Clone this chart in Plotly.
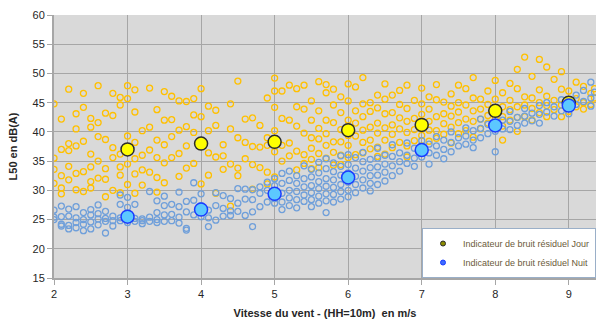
import plotly.graph_objects as go

# Background noise L50 (dB(A)) versus wind speed at 10 m, day samples
day_wind = [
    2.0, 2.0, 2.0, 2.0,
    2.1, 2.1, 2.1, 2.1, 2.1,
    2.2, 2.2, 2.2, 2.2, 2.2,
    2.3, 2.3, 2.3, 2.3, 2.3,
    2.4, 2.4, 2.4, 2.4, 2.4,
    2.5, 2.5, 2.5, 2.5, 2.5, 2.5,
    2.6, 2.6, 2.6, 2.6, 2.6,
    2.7, 2.7, 2.7, 2.7, 2.7,
    2.8, 2.8, 2.8, 2.8, 2.8,
    2.9, 2.9, 2.9, 2.9, 2.9, 2.9,
    3.0, 3.0, 3.0, 3.0, 3.0,
    3.1, 3.1, 3.1, 3.1, 3.1, 3.1,
    3.2, 3.2, 3.2, 3.2,
    3.3, 3.3, 3.3, 3.3,
    3.4, 3.4, 3.4, 3.4, 3.4,
    3.5, 3.5, 3.5, 3.5, 3.5,
    3.6, 3.6, 3.6, 3.6,
    3.7, 3.7, 3.7, 3.7,
    3.8, 3.8, 3.8, 3.8,
    3.9, 3.9, 3.9, 3.9,
    4.0, 4.0, 4.0, 4.0,
    4.1, 4.1, 4.1, 4.1,
    4.2, 4.2, 4.2, 4.2,
    4.3, 4.3, 4.3,
    4.4, 4.4, 4.4, 4.4,
    4.5, 4.5, 4.5, 4.5,
    4.6, 4.6, 4.6,
    4.7, 4.7, 4.7, 4.7,
    4.8, 4.8, 4.8,
    4.9, 4.9, 4.9, 4.9, 4.9,
    5.0, 5.0, 5.0, 5.0, 5.0, 5.0,
    5.1, 5.1, 5.1, 5.1,
    5.2, 5.2, 5.2, 5.2,
    5.3, 5.3, 5.3, 5.3, 5.3,
    5.4, 5.4, 5.4, 5.4, 5.4,
    5.5, 5.5, 5.5, 5.5, 5.5, 5.5,
    5.6, 5.6, 5.6, 5.6, 5.6, 5.6,
    5.7, 5.7, 5.7, 5.7, 5.7, 5.7,
    5.8, 5.8, 5.8, 5.8, 5.8, 5.8,
    5.9, 5.9, 5.9, 5.9, 5.9, 5.9,
    6.0, 6.0, 6.0, 6.0, 6.0, 6.0,
    6.1, 6.1, 6.1, 6.1, 6.1,
    6.2, 6.2, 6.2, 6.2, 6.2, 6.2,
    6.3, 6.3, 6.3, 6.3, 6.3,
    6.4, 6.4, 6.4, 6.4, 6.4, 6.4,
    6.5, 6.5, 6.5, 6.5, 6.5, 6.5,
    6.6, 6.6, 6.6, 6.6, 6.6,
    6.7, 6.7, 6.7, 6.7, 6.7,
    6.8, 6.8, 6.8, 6.8, 6.8, 6.8,
    6.9, 6.9, 6.9, 6.9,
    7.0, 7.0, 7.0, 7.0, 7.0, 7.0,
    7.1, 7.1, 7.1, 7.1, 7.1,
    7.2, 7.2, 7.2, 7.2, 7.2,
    7.3, 7.3, 7.3, 7.3,
    7.4, 7.4, 7.4, 7.4, 7.4,
    7.5, 7.5, 7.5, 7.5, 7.5,
    7.6, 7.6, 7.6, 7.6,
    7.7, 7.7, 7.7, 7.7, 7.7,
    7.8, 7.8, 7.8, 7.8,
    7.9, 7.9, 7.9, 7.9,
    8.0, 8.0, 8.0, 8.0, 8.0,
    8.1, 8.1, 8.1, 8.1, 8.1,
    8.2, 8.2, 8.2, 8.2,
    8.3, 8.3, 8.3, 8.3, 8.3,
    8.4, 8.4, 8.4, 8.4,
    8.5, 8.5, 8.5, 8.5,
    8.6, 8.6, 8.6, 8.6,
    8.7, 8.7, 8.7, 8.7,
    8.8, 8.8, 8.8,
    8.9, 8.9, 8.9, 8.9,
    9.0, 9.0, 9.0,
    9.1, 9.1, 9.1,
    9.2, 9.2, 9.2,
    9.3, 9.3,
    9.35, 9.35,
]
day_l50 = [
    44.8, 33.6, 31.2, 35.5,
    42.2, 37.0, 32.5, 30.4, 29.4,
    47.3, 36.8, 34.1, 38.0, 31.8,
    43.1, 37.6, 32.9, 40.5, 30.1,
    46.6, 44.2, 38.4, 33.2, 29.8,
    42.3, 40.8, 36.2, 34.0, 31.5, 30.4,
    47.9, 41.6, 39.2, 35.0, 32.1,
    43.2, 38.7, 33.7, 28.9, 31.9,
    46.6, 42.8, 37.3, 35.6, 30.0,
    45.9, 44.6, 36.2, 34.0, 32.6, 29.6,
    47.9, 45.7, 39.3, 34.5, 31.0,
    47.2, 43.4, 38.2, 35.4, 32.8, 29.5,
    40.2, 36.0, 33.5, 30.9,
    47.5, 40.8, 36.9, 33.1,
    43.8, 38.6, 35.6, 32.2, 29.7,
    46.9, 42.0, 37.8, 34.7, 31.3,
    46.1, 42.1, 39.2, 35.6,
    45.3, 40.3, 36.3, 32.4,
    45.2, 40.9, 37.6, 33.8,
    45.7, 42.9, 39.9, 34.6,
    47.4, 42.6, 37.5, 31.1,
    44.4, 40.2, 36.4, 32.6,
    43.7, 41.1, 35.7, 29.5,
    37.8, 35.9, 33.6,
    44.8, 40.5, 34.5, 27.3,
    48.7, 39.0, 33.8, 32.5,
    42.2, 38.2, 35.4,
    42.4, 37.5, 34.4, 30.2,
    41.1, 37.4, 33.9,
    45.8, 39.0, 37.7, 33.1, 31.1,
    49.2, 47.0, 44.2, 40.2, 36.6, 32.3,
    47.0, 42.3, 37.7, 35.0,
    48.0, 42.0, 38.1, 35.9,
    47.4, 44.3, 41.0, 36.7, 33.5,
    48.0, 43.9, 39.8, 36.1, 34.6,
    45.3, 42.0, 39.0, 37.2, 35.3, 33.7,
    48.6, 43.6, 40.6, 38.8, 36.3, 33.9,
    48.1, 46.7, 42.0, 39.7, 37.7, 35.5,
    47.3, 44.6, 41.6, 38.3, 36.5, 34.3,
    46.0, 43.3, 40.4, 38.3, 36.0, 34.4,
    48.2, 45.3, 42.0, 39.4, 37.7, 35.6,
    47.7, 43.6, 41.5, 39.3, 36.1,
    49.3, 44.8, 42.6, 40.3, 38.2, 36.4,
    45.0, 43.5, 40.8, 38.6, 37.1,
    46.3, 44.1, 41.5, 39.8, 37.4, 35.8,
    48.2, 45.6, 43.1, 40.7, 38.6, 36.2,
    46.3, 43.3, 41.2, 39.6, 37.3,
    47.1, 44.7, 42.4, 40.5, 38.2,
    48.0, 44.0, 41.8, 39.9, 37.6, 35.7,
    45.4, 42.3, 40.4, 38.5,
    47.5, 44.8, 43.0, 41.0, 39.4, 37.6,
    46.0, 43.9, 41.8, 40.3, 38.4,
    48.1, 45.5, 42.6, 40.2, 38.9,
    45.1, 43.1, 41.4, 39.6,
    46.5, 44.4, 42.7, 40.8, 38.1,
    48.0, 45.0, 43.4, 41.6, 39.7,
    47.4, 44.6, 42.2, 40.2,
    49.3, 45.8, 43.6, 41.8, 39.1,
    45.6, 43.9, 42.2, 40.5,
    47.0, 44.7, 42.8, 41.5,
    48.8, 45.6, 43.9, 42.4, 40.8,
    46.7, 44.3, 42.6, 41.0, 38.6,
    48.3, 45.4, 43.8, 42.0,
    50.7, 47.4, 44.3, 42.5, 40.1,
    52.8, 46.0, 44.6, 42.6,
    49.5, 45.8, 44.0, 42.0,
    52.4, 47.2, 45.0, 43.3,
    51.1, 46.1, 44.5, 42.6,
    49.0, 45.4, 43.8,
    50.3, 47.3, 44.6, 42.6,
    47.0, 45.3, 43.5,
    48.5, 45.7, 44.3,
    47.8, 45.0, 43.9,
    46.6, 44.7,
    47.4, 45.8,
]

# Night samples
night_wind = [
    2.0, 2.0, 2.0,
    2.1, 2.1, 2.1, 2.1,
    2.2, 2.2, 2.2, 2.2,
    2.3, 2.3, 2.3, 2.3,
    2.4, 2.4, 2.4, 2.4,
    2.5, 2.5, 2.5, 2.5,
    2.6, 2.6, 2.6, 2.6,
    2.7, 2.7, 2.7, 2.7,
    2.8, 2.8, 2.8,
    2.9, 2.9, 2.9, 2.9,
    3.0, 3.0, 3.0, 3.0,
    3.1, 3.1, 3.1,
    3.2, 3.2, 3.2,
    3.3, 3.3, 3.3,
    3.4, 3.4, 3.4, 3.4,
    3.5, 3.5, 3.5, 3.5,
    3.6, 3.6, 3.6,
    3.7, 3.7, 3.7, 3.7,
    3.8, 3.8, 3.8, 3.8,
    3.9, 3.9, 3.9,
    4.0, 4.0, 4.0,
    4.1, 4.1, 4.1,
    4.2, 4.2, 4.2,
    4.3, 4.3, 4.3,
    4.4, 4.4, 4.4,
    4.5, 4.5, 4.5,
    4.6, 4.6, 4.6,
    4.7, 4.7, 4.7, 4.7,
    4.8, 4.8, 4.8,
    4.9, 4.9, 4.9,
    5.0, 5.0, 5.0, 5.0,
    5.1, 5.1, 5.1, 5.1, 5.1,
    5.2, 5.2, 5.2, 5.2, 5.2,
    5.3, 5.3, 5.3, 5.3, 5.3,
    5.4, 5.4, 5.4, 5.4, 5.4,
    5.5, 5.5, 5.5, 5.5, 5.5, 5.5,
    5.6, 5.6, 5.6, 5.6, 5.6, 5.6,
    5.7, 5.7, 5.7, 5.7, 5.7, 5.7, 5.7,
    5.8, 5.8, 5.8, 5.8, 5.8, 5.8,
    5.9, 5.9, 5.9, 5.9, 5.9, 5.9,
    6.0, 6.0, 6.0, 6.0, 6.0, 6.0,
    6.1, 6.1, 6.1, 6.1, 6.1,
    6.2, 6.2, 6.2, 6.2, 6.2,
    6.3, 6.3, 6.3, 6.3, 6.3,
    6.4, 6.4, 6.4, 6.4, 6.4,
    6.5, 6.5, 6.5, 6.5,
    6.6, 6.6, 6.6, 6.6,
    6.7, 6.7, 6.7,
    6.8, 6.8, 6.8,
    6.9, 6.9, 6.9,
    7.0, 7.0, 7.0,
    7.1, 7.1, 7.1,
    7.2, 7.2, 7.2,
    7.3, 7.3, 7.3,
    7.4, 7.4, 7.4,
    7.5, 7.5,
    7.6, 7.6, 7.6,
    7.7, 7.7, 7.7,
    7.8, 7.8, 7.8,
    7.9, 7.9,
    8.0, 8.0, 8.0, 8.0,
    8.1, 8.1,
    8.2, 8.2, 8.2,
    8.3, 8.3,
    8.4, 8.4, 8.4,
    8.5, 8.5,
    8.6, 8.6, 8.6,
    8.7, 8.7,
    8.8, 8.8,
    8.9, 8.9,
    9.0, 9.0,
    9.1, 9.1,
    9.2, 9.2,
    9.3, 9.3, 9.3,
    9.35,
]
night_l50 = [
    26.6, 25.4, 25.0,
    27.3, 25.5, 24.2, 23.9,
    26.8, 25.6, 24.0, 23.4,
    27.2, 25.3, 24.5, 23.6,
    26.2, 25.0, 24.2, 23.1,
    26.7, 25.8, 24.6, 23.4,
    27.5, 26.0, 25.1, 24.1,
    26.4, 25.2, 24.7, 22.7,
    25.6, 24.8, 23.9,
    29.2, 27.6, 25.3, 24.8,
    28.8, 27.1, 25.0, 24.5,
    27.6, 25.2, 24.7,
    25.1, 24.8, 24.3,
    29.8, 25.4, 24.7,
    28.2, 26.2, 25.0, 24.5,
    29.0, 27.4, 25.8, 24.7,
    27.6, 25.9, 24.8,
    29.7, 27.2, 25.4, 24.4,
    28.1, 26.3, 23.5, 23.2,
    31.3, 28.3, 25.8,
    29.4, 27.4, 25.5,
    26.6, 25.3, 23.8,
    29.6, 27.4, 24.9,
    29.1, 26.9, 25.6,
    28.6, 26.5, 25.7,
    30.3, 27.8, 26.4,
    30.2, 28.5, 25.7,
    30.1, 28.4, 26.3, 23.8,
    30.6, 29.5, 27.2,
    31.4, 30.0, 28.0,
    32.0, 30.8, 28.6, 27.8,
    32.9, 31.2, 29.5, 28.0, 26.7,
    33.3, 31.7, 30.0, 28.7, 27.4,
    32.5, 31.2, 29.8, 28.4, 27.0,
    34.2, 32.0, 30.6, 29.2, 28.1,
    33.6, 32.3, 30.8, 29.6, 28.4, 27.2,
    34.8, 33.0, 31.5, 30.3, 29.0, 27.8,
    35.4, 33.7, 32.0, 30.7, 29.4, 28.2, 26.2,
    34.7, 33.2, 31.8, 30.5, 29.3, 28.0,
    35.9, 34.1, 32.6, 31.0, 29.8, 28.5,
    36.1, 34.4, 33.0, 31.4, 30.0, 28.9,
    35.6, 33.8, 32.4, 31.0, 29.6,
    36.5, 34.9, 33.3, 31.8, 30.4,
    35.3, 33.9, 32.5, 31.2, 29.9,
    37.2, 35.5, 34.0, 32.6, 31.0,
    36.0, 34.5, 33.1, 31.6,
    37.8, 35.8, 34.2, 32.5,
    36.4, 34.9, 33.3,
    38.1, 36.0, 34.6,
    37.2, 35.5, 34.1,
    38.5, 37.3, 35.7,
    37.9, 36.4, 34.5,
    39.2, 37.6, 36.0,
    38.6, 37.0, 35.4,
    40.0, 38.2, 36.6,
    39.0, 37.6,
    40.7, 39.3, 37.9,
    40.2, 38.6, 37.3,
    42.2, 40.6, 39.0,
    41.3, 39.7,
    43.1, 41.5, 40.1, 36.6,
    42.0, 40.5,
    43.5, 41.8, 40.4,
    42.5, 41.1,
    44.0, 42.7, 41.5,
    43.2, 41.9,
    44.5, 43.0, 41.5,
    45.0, 43.4,
    44.3, 42.7,
    45.5, 43.6,
    44.8, 43.1,
    46.3, 44.7,
    47.1, 45.2,
    48.5, 45.8, 44.4,
    46.8,
]

# Residual noise indicators per integer wind speed
indicator_wind = [3, 4, 5, 6, 7, 8, 9]
indicator_day = [37.0, 38.0, 38.3, 40.3, 41.2, 43.6, 45.0]
indicator_night = [25.5, 26.7, 29.4, 32.2, 36.9, 41.1, 44.5]

legend_labels = ["Indicateur de bruit résiduel Jour", "Indicateur de bruit résiduel Nuit"]

FONT = "Liberation Sans, Arial, sans-serif"

fig = go.Figure()

fig.add_trace(go.Scatter(
    x=day_wind, y=day_l50, mode="markers", showlegend=False, hoverinfo="skip",
    marker=dict(symbol="circle-open", size=6, color="#FFC000", line=dict(width=1.3)),
))
fig.add_trace(go.Scatter(
    x=night_wind, y=night_l50, mode="markers", showlegend=False, hoverinfo="skip",
    marker=dict(symbol="circle-open", size=6, color="#6F9FDA", line=dict(width=1.3)),
))
fig.add_trace(go.Scatter(
    x=indicator_wind, y=indicator_day, mode="markers", showlegend=False,
    marker=dict(size=13, color="#FFFF00", line=dict(color="#2B2B2B", width=1.5)),
))
fig.add_trace(go.Scatter(
    x=indicator_wind, y=indicator_night, mode="markers", showlegend=False,
    marker=dict(size=13, color="#5CC8FF", line=dict(color="#1A3CFF", width=1.5)),
))

# Legend entries with small symbols
fig.add_trace(go.Scatter(
    x=[None], y=[None], mode="markers", name=legend_labels[0],
    marker=dict(size=5, color="#8C8C00", line=dict(color="#2B2B2B", width=1)),
))
fig.add_trace(go.Scatter(
    x=[None], y=[None], mode="markers", name=legend_labels[1],
    marker=dict(size=5, color="#3D6BFF", line=dict(color="#1A3CFF", width=1)),
))

axis_common = dict(
    showgrid=True, gridcolor="#A6A6A6", gridwidth=1,
    showline=True, linecolor="#A6A6A6", linewidth=2, mirror=False,
    ticks="outside", ticklen=5, tickcolor="#A6A6A6", tickwidth=1,
    tickfont=dict(family=FONT, size=11, color="#262626"),
    zeroline=False,
)

fig.update_layout(
    width=598, height=324,
    margin=dict(l=54, r=2, t=15, b=46),
    paper_bgcolor="white", plot_bgcolor="#D9D9D9",
    font=dict(family=FONT),
    xaxis=dict(range=[2, 9.37], dtick=1, tick0=2,
               title=dict(text="<b>Vitesse du vent - (HH=10m)  en m/s</b>",
                          font=dict(family=FONT, size=11, color="#262626"), standoff=10),
               **axis_common),
    yaxis=dict(range=[15, 60], dtick=5,
               title=dict(text="<b>L50 en dB(A)</b>",
                          font=dict(family=FONT, size=11, color="#262626"), standoff=13),
               **axis_common),
    legend=dict(x=1.0, y=0.19, xanchor="right", yanchor="top",
                bgcolor="white", bordercolor="#9AAFC8", borderwidth=1,
                font=dict(family=FONT, size=9, color="#6B5A3A"),
                tracegroupgap=4, itemwidth=30),
)

fig.write_html("out.html")
